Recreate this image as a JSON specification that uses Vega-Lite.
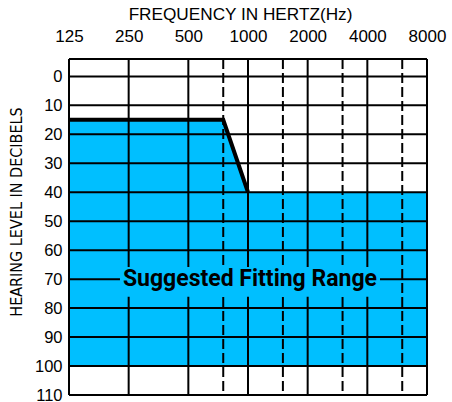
{
  "$schema": "https://vega.github.io/schema/vega-lite/v6.json",
  "autosize": {"type": "none"},
  "padding": {"left": 69, "top": 59, "right": 25, "bottom": 7},
  "width": 358,
  "height": 336,
  "background": "white",
  "config": {"view": {"stroke": null}, "font": "Liberation Sans"},
  "resolve": {"axis": {"x": "independent", "y": "independent"}},
  "datasets": {
    "fill": [
      {"freq": 125, "db": 15},
      {"freq": 750, "db": 15},
      {"freq": 1000, "db": 40},
      {"freq": 8000, "db": 40}
    ],
    "profile": [
      {"freq": 125, "db": 15},
      {"freq": 750, "db": 15},
      {"freq": 1000, "db": 40}
    ],
    "hlines": [
      {"db": 0}, {"db": 10}, {"db": 20}, {"db": 30}, {"db": 40}, {"db": 50},
      {"db": 60}, {"db": 70}, {"db": 80}, {"db": 90}, {"db": 100}, {"db": -6}, {"db": 110}
    ],
    "vsolid": [
      {"freq": 125}, {"freq": 250}, {"freq": 500}, {"freq": 1000}, {"freq": 2000}, {"freq": 4000}, {"freq": 8000}
    ],
    "vdash": [
      {"freq": 750}, {"freq": 1500}, {"freq": 3000}, {"freq": 6000}
    ],
    "label": [
      {"freq": 226, "freq2": 4634, "db": 65.8, "db2": 76.1, "tx": 1023, "ty": 70, "text": "Suggested Fitting Range"}
    ]
  },
  "layer": [
    {
      "data": {"name": "fill"},
      "mark": {"type": "area", "color": "#00BFFF", "opacity": 1},
      "encoding": {
        "x": {
          "field": "freq", "type": "quantitative",
          "scale": {"type": "log", "domain": [125, 8000], "nice": false, "zero": false},
          "axis": {
            "orient": "top", "values": [125, 250, 500, 1000, 2000, 4000, 8000],
            "format": "d", "ticks": false, "domain": false, "grid": false,
            "labelFontSize": 17, "labelColor": "black", "labelPadding": 14,
            "labelOverlap": false, "labelBound": false, "labelFlush": false,
            "title": "FREQUENCY IN HERTZ(Hz)", "titleFontSize": 17.2, "titleFontWeight": "normal",
            "titleColor": "black", "titleX": 171, "titleY": -45, "titleBaseline": "middle", "titleAlign": "center"
          }
        },
        "y": {
          "field": "db", "type": "quantitative",
          "scale": {"domain": [-6, 110], "reverse": true, "nice": false, "zero": false},
          "axis": {
            "values": [0, 10, 20, 30, 40, 50, 60, 70, 80, 90, 100, 110],
            "ticks": false, "domain": false, "grid": false,
            "labelFontSize": 16.5, "labelColor": "black", "labelPadding": 7,
            "labelOverlap": false, "labelBound": false, "labelFlush": false,
            "title": "HEARING LEVEL IN DECIBELS", "titleFont": "DejaVu Sans Condensed, Liberation Sans", "titleFontSize": 16,
            "titleFontWeight": "normal", "titleColor": "black", "titleAngle": 270,
            "titleX": -53, "titleY": 152.5, "titleBaseline": "middle", "titleAlign": "center"
          }
        },
        "y2": {"datum": 100}
      }
    },
    {
      "data": {"name": "hlines"},
      "mark": {"type": "rule", "color": "black", "strokeWidth": 2},
      "encoding": {
        "y": {"field": "db", "type": "quantitative", "axis": null}
      }
    },
    {
      "data": {"name": "vsolid"},
      "mark": {"type": "rule", "color": "black", "strokeWidth": 2},
      "encoding": {
        "x": {"field": "freq", "type": "quantitative", "axis": null}
      }
    },
    {
      "data": {"name": "vdash"},
      "mark": {"type": "rule", "color": "black", "strokeWidth": 2, "strokeDash": [10, 4]},
      "encoding": {
        "x": {"field": "freq", "type": "quantitative", "axis": null}
      }
    },
    {
      "data": {"name": "label"},
      "mark": {"type": "rect", "color": "#00BFFF", "opacity": 1},
      "encoding": {
        "x": {"field": "freq", "type": "quantitative", "axis": null},
        "x2": {"field": "freq2"},
        "y": {"field": "db", "type": "quantitative", "axis": null},
        "y2": {"field": "db2"}
      }
    },
    {
      "data": {"name": "label"},
      "mark": {"type": "text", "font": "Roboto", "fontWeight": "bold", "fontSize": 23, "color": "black", "align": "center", "baseline": "middle"},
      "encoding": {
        "x": {"field": "tx", "type": "quantitative", "axis": null},
        "y": {"field": "ty", "type": "quantitative", "axis": null},
        "text": {"field": "text"}
      }
    },
    {
      "data": {"name": "profile"},
      "mark": {"type": "line", "color": "black", "strokeWidth": 4},
      "encoding": {
        "x": {"field": "freq", "type": "quantitative", "axis": null},
        "y": {"field": "db", "type": "quantitative", "axis": null}
      }
    }
  ]
}
